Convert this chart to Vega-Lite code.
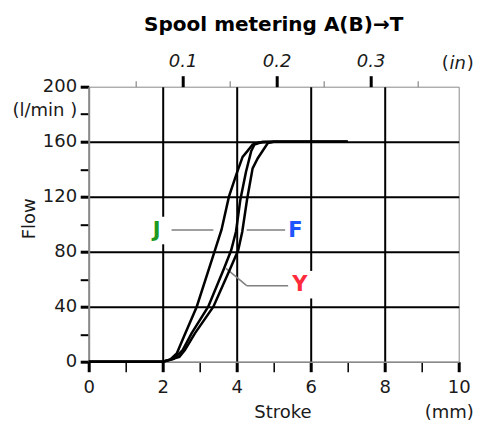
{
  "$schema": "https://vega.github.io/schema/vega-lite/v6.json",
  "width": 370,
  "height": 275,
  "autosize": {"type": "none"},
  "padding": {"left": 88.7, "top": 86.7, "right": 24.3, "bottom": 61.3},
  "background": "white",
  "title": {"text": "Spool metering A(B)→T", "font": "DejaVu Sans", "fontSize": 20, "fontWeight": "bold", "color": "black", "anchor": "middle", "frame": "group", "offset": 18},
  "config": {
    "view": {"stroke": "#8a8a8a", "strokeWidth": 1},
    "axis": {"labelFont": "DejaVu Sans", "titleFont": "DejaVu Sans", "labelFontSize": 18, "titleFontSize": 18, "labelColor": "#1a1a1a", "titleColor": "#1a1a1a", "titleFontWeight": "normal", "labelFlush": false, "labelBound": false, "labelOverlap": false}
  },
  "datasets": {
    "curves": [
      {"series": "J", "stroke": 0, "flow": 0},
      {"series": "J", "stroke": 2, "flow": 0},
      {"series": "J", "stroke": 2.2, "flow": 1.5},
      {"series": "J", "stroke": 2.38, "flow": 6},
      {"series": "J", "stroke": 2.6, "flow": 20},
      {"series": "J", "stroke": 2.92, "flow": 40},
      {"series": "J", "stroke": 3.4, "flow": 80},
      {"series": "J", "stroke": 3.59, "flow": 96},
      {"series": "J", "stroke": 3.79, "flow": 120},
      {"series": "J", "stroke": 4.0, "flow": 137},
      {"series": "J", "stroke": 4.16, "flow": 149},
      {"series": "J", "stroke": 4.3, "flow": 153.5},
      {"series": "J", "stroke": 4.43, "flow": 158},
      {"series": "J", "stroke": 4.6, "flow": 159.5},
      {"series": "J", "stroke": 5, "flow": 160},
      {"series": "J", "stroke": 7, "flow": 160},
      {"series": "Y", "stroke": 0, "flow": 0},
      {"series": "Y", "stroke": 2, "flow": 0},
      {"series": "Y", "stroke": 2.3, "flow": 2},
      {"series": "Y", "stroke": 2.54, "flow": 8.5},
      {"series": "Y", "stroke": 2.78, "flow": 20.6},
      {"series": "Y", "stroke": 3.23, "flow": 40},
      {"series": "Y", "stroke": 3.66, "flow": 68},
      {"series": "Y", "stroke": 3.85, "flow": 81},
      {"series": "Y", "stroke": 3.98, "flow": 94.5},
      {"series": "Y", "stroke": 4.1, "flow": 118},
      {"series": "Y", "stroke": 4.25, "flow": 138},
      {"series": "Y", "stroke": 4.39, "flow": 153},
      {"series": "Y", "stroke": 4.48, "flow": 158},
      {"series": "Y", "stroke": 4.7, "flow": 160},
      {"series": "Y", "stroke": 7, "flow": 160},
      {"series": "F", "stroke": 0, "flow": 0},
      {"series": "F", "stroke": 2, "flow": 0},
      {"series": "F", "stroke": 2.45, "flow": 3.5},
      {"series": "F", "stroke": 2.6, "flow": 8.5},
      {"series": "F", "stroke": 2.87, "flow": 20.6},
      {"series": "F", "stroke": 3.37, "flow": 40},
      {"series": "F", "stroke": 3.83, "flow": 68},
      {"series": "F", "stroke": 4.04, "flow": 81},
      {"series": "F", "stroke": 4.15, "flow": 94.5},
      {"series": "F", "stroke": 4.28, "flow": 118},
      {"series": "F", "stroke": 4.43, "flow": 140.6},
      {"series": "F", "stroke": 4.57, "flow": 148},
      {"series": "F", "stroke": 4.84, "flow": 159},
      {"series": "F", "stroke": 5.0, "flow": 160},
      {"series": "F", "stroke": 7, "flow": 160}
    ],
    "pointers": [
      {"x1": 2.24, "y1": 95.8, "x2": 3.37, "y2": 95.8},
      {"x1": 4.27, "y1": 95.7, "x2": 5.31, "y2": 95.7},
      {"x1": 3.71, "y1": 67.9, "x2": 4.27, "y2": 55.3},
      {"x1": 4.27, "y1": 55.3, "x2": 5.39, "y2": 55.3}
    ],
    "labels": [
      {"lab": "J", "x": 1.84, "y": 95.4},
      {"lab": "F", "x": 5.59, "y": 95.4},
      {"lab": "Y", "x": 5.71, "y": 56}
    ]
  },
  "layer": [
    {
      "data": {"name": "labels"},
      "mark": {"type": "point", "shape": "square", "filled": true, "color": "white", "opacity": 1, "size": 760, "strokeWidth": 0},
      "encoding": {
        "x": {"field": "x", "type": "quantitative", "scale": {"domain": [0, 10], "nice": false, "zero": false},
          "axis": {"orient": "top", "values": [1.27, 3.81, 6.35, 8.89], "labels": false, "tickSize": 6, "tickWidth": 1.2, "tickColor": "#888888", "domain": false, "grid": false, "title": "(mm)", "titleX": 360, "titleY": 325.3, "titleAlign": "center", "titleBaseline": "middle"}},
        "y": {"field": "y", "type": "quantitative", "scale": {"domain": [0, 200], "nice": false, "zero": false},
          "axis": {"orient": "left", "ticks": false, "labels": false, "domain": false, "grid": false, "title": "in", "titleFontStyle": "italic", "titleAngle": 0, "titleX": 368.5, "titleY": -23.7, "titleAlign": "center", "titleBaseline": "middle"}}
      }
    },
    {
      "data": {"name": "pointers"},
      "mark": {"type": "rule", "color": "#7f7f7f", "strokeWidth": 1.5},
      "encoding": {
        "x": {"field": "x1", "type": "quantitative", "scale": {"domain": [0, 10], "nice": false, "zero": false},
          "axis": {"orient": "top", "values": [2.54, 5.08, 7.62], "labelExpr": "format(datum.value / 25.4, '.1f')", "labelFontStyle": "italic", "tickSize": 11, "tickWidth": 3, "tickColor": "black", "labelPadding": 5, "domain": false, "grid": false, "title": "(", "titleX": 359.6, "titleY": -23.7, "titleAlign": "right", "titleBaseline": "middle"}},
        "x2": {"field": "x2"},
        "y": {"field": "y1", "type": "quantitative", "scale": {"domain": [0, 200], "nice": false, "zero": false},
          "axis": {"orient": "left", "ticks": false, "labels": false, "domain": false, "grid": false, "title": ")", "titleAngle": 0, "titleX": 377.6, "titleY": -23.7, "titleAlign": "left", "titleBaseline": "middle"}},
        "y2": {"field": "y2"}
      }
    },
    {
      "data": {"name": "curves"},
      "mark": {"type": "line", "color": "black", "strokeWidth": 2.5},
      "encoding": {
        "x": {"field": "stroke", "type": "quantitative", "scale": {"domain": [0, 10], "nice": false, "zero": false},
          "axis": {"orient": "bottom", "values": [0, 1, 2, 3, 4, 5, 6, 7, 8, 9, 10], "labelExpr": "datum.value % 2 == 0 ? datum.label : ''", "tickSize": 10, "tickColor": "black", "tickWidth": {"condition": {"test": "datum.value % 2 == 0", "value": 3}, "value": 1.5}, "grid": true, "gridColor": "black", "gridWidth": 2, "gridOpacity": {"condition": {"test": "datum.value % 2 == 0 && datum.value > 0 && datum.value < 10", "value": 1}, "value": 0}, "domainColor": "#8a8a8a", "domainWidth": 1.5, "labelPadding": 7, "title": "Stroke", "titleX": 193.8, "titleY": 50.3, "titleAlign": "center", "titleBaseline": "middle"}},
        "y": {"field": "flow", "type": "quantitative", "scale": {"domain": [0, 200], "nice": false, "zero": false},
          "axis": {"orient": "left", "values": [0, 20, 40, 60, 80, 100, 120, 140, 160, 180, 200], "labelExpr": "datum.value % 40 == 0 ? datum.label : (datum.value == 180 ? '(l/min )' : '')", "labelOffset": {"condition": {"test": "datum.value == 180", "value": -4}, "value": 0}, "tickSize": 8.5, "tickColor": "black", "tickWidth": {"condition": {"test": "datum.value % 40 == 0", "value": 3}, "value": 2}, "grid": true, "gridColor": "black", "gridWidth": 2, "gridOpacity": {"condition": {"test": "datum.value % 40 == 0 && datum.value > 0 && datum.value < 200", "value": 1}, "value": 0}, "domainColor": "#8a8a8a", "domainWidth": 2, "labelPadding": 3.5, "title": "Flow", "titleX": -58.7, "titleY": 131.6, "titleAlign": "center", "titleBaseline": "middle"}},
        "detail": {"field": "series", "type": "nominal"}
      }
    },
    {
      "data": {"name": "labels"},
      "mark": {"type": "text", "font": "DejaVu Sans", "fontSize": 21, "fontWeight": "bold", "align": "center", "baseline": "middle"},
      "encoding": {
        "x": {"field": "x", "type": "quantitative", "scale": {"domain": [0, 10], "nice": false, "zero": false}, "axis": null},
        "y": {"field": "y", "type": "quantitative", "scale": {"domain": [0, 200], "nice": false, "zero": false}, "axis": null},
        "text": {"field": "lab"},
        "color": {"field": "lab", "type": "nominal", "scale": {"domain": ["J", "F", "Y"], "range": ["#1f9a1f", "#1f55ff", "#ff2a3a"]}, "legend": null}
      }
    }
  ],
  "resolve": {"axis": {"x": "independent", "y": "independent"}}
}
